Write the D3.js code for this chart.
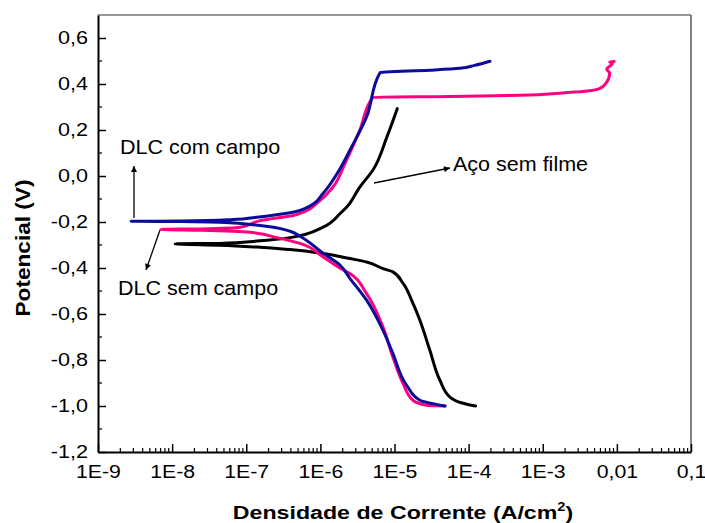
<!DOCTYPE html>
<html lang="pt">
<head>
<meta charset="utf-8">
<title>Polarização</title>
<script src="https://cdnjs.cloudflare.com/ajax/libs/d3/7.8.5/d3.min.js"></script>
<style>
  body { margin: 0; background: #fff; }
  text { font-family: "Liberation Sans", Arial, sans-serif; fill: #000; }
</style>
</head>
<body>
<script>
// curvas de polarização: densidade de corrente (A/cm2) x potencial (V)
var comCampoI = [4.8e-5, 2.2e-5, 1.46e-5, 9.5e-6, 7.0e-6, 4.2e-6, 2.5e-6, 1.85e-6, 1.09e-6, 5.3e-7, 3.9e-7, 1.54e-7, 4.4e-8, 1.3e-8, 2.8e-9,
                 1.3e-8, 6.1e-8, 1.5e-7, 3.9e-7, 7.3e-7, 1.09e-6, 1.85e-6, 2.5e-6, 4.2e-6, 6.4e-6, 3.0e-5, 7.6e-5, 1.2e-4, 1.94e-4];
var comCampoE = [-1.0, -0.975, -0.91, -0.771, -0.671, -0.54, -0.445, -0.388, -0.336, -0.262, -0.24, -0.215, -0.201, -0.198, -0.197,
                 -0.196, -0.19, -0.178, -0.16, -0.13, -0.075, 0.033, 0.112, 0.257, 0.45, 0.46, 0.468, 0.481, 0.499];

var semCampoI = [4.8e-5, 2.7e-5, 1.77e-5, 1.3e-5, 9.5e-6, 7.0e-6, 4.2e-6, 2.5e-6, 1.85e-6, 1.09e-6, 5.3e-7, 2.6e-7, 1.13e-7, 2.4e-8, 7.1e-9,
                 2.4e-8, 8.3e-8, 1.5e-7, 4.8e-7, 9.9e-7, 1.48e-6, 2.15e-6, 3.4e-6, 5.1e-6, 5.6e-5, 4.9e-4, 1.7e-3, 3.7e-3, 5.9e-3, 7.1e-3,
                 8.0e-3, 7.3e-3, 8.7e-3, 8.0e-3, 9.2e-3];
var semCampoE = [-1.0, -0.997, -0.975, -0.901, -0.787, -0.657, -0.511, -0.424, -0.401, -0.352, -0.293, -0.268, -0.245, -0.236, -0.232,
                 -0.23, -0.223, -0.195, -0.168, -0.106, -0.048, 0.055, 0.199, 0.342, 0.346, 0.351, 0.36, 0.368, 0.381, 0.403,
                 0.447, 0.464, 0.49, 0.496, 0.498];

var acoI = [1.24e-4, 8.4e-5, 5.6e-5, 4.1e-5, 3.0e-5, 2.2e-5, 1.77e-5, 1.3e-5, 9.5e-6, 7.0e-6, 4.2e-6, 2.5e-6, 1.09e-6, 3.9e-7, 1.39e-7, 4.4e-8, 1.1e-8,
            4.4e-8, 1.39e-7, 3.9e-7, 1.09e-6, 1.85e-6, 2.27e-6, 3.4e-6, 5.1e-6, 7.9e-6, 1.09e-5];
var acoE = [-1.0, -0.988, -0.961, -0.888, -0.758, -0.627, -0.553, -0.466, -0.417, -0.403, -0.374, -0.359, -0.337, -0.32, -0.309, -0.301, -0.295,
            -0.293, -0.283, -0.268, -0.222, -0.163, -0.135, -0.048, 0.025, 0.17, 0.293];

var xTicks = [1e-9, 1e-8, 1e-7, 1e-6, 1e-5, 1e-4, 1e-3, 1e-2, 1e-1];
var xTickLabels = ["1E-9", "1E-8", "1E-7", "1E-6", "1E-5", "1E-4", "1E-3", "0,01", "0,1"];
var yTicks = [-1.2, -1.0, -0.8, -0.6, -0.4, -0.2, 0.0, 0.2, 0.4, 0.6];

var W = 705, H = 523;
var mLeft = 98, mRight = 691, mTop = 15, mBottom = 452;

var svg = d3.select("body").append("svg")
    .attr("width", W)
    .attr("height", H);

var x = d3.scaleLog().domain([1e-9, 0.1]).range([mLeft, mRight]);
var y = d3.scaleLinear().domain([-1.2, 0.7]).range([mBottom, mTop]);

// moldura fina (topo e direita)
svg.append("line").attr("x1", mLeft).attr("x2", mRight).attr("y1", mTop).attr("y2", mTop)
    .attr("stroke", "#333").attr("stroke-width", 1.2);
svg.append("line").attr("x1", mRight).attr("x2", mRight).attr("y1", mTop).attr("y2", mBottom)
    .attr("stroke", "#333").attr("stroke-width", 1.2);

// eixo x
var minorX = [];
for (var d = -9; d < -1; d++) {
    for (var k = 2; k <= 9; k++) minorX.push(k * Math.pow(10, d));
}
var xAxis = d3.axisBottom(x).tickValues(xTicks)
    .tickFormat(function(d, i) { return xTickLabels[i]; })
    .tickSizeInner(-8).tickSizeOuter(0).tickPadding(13);
var gx = svg.append("g").attr("transform", "translate(0," + mBottom + ")").call(xAxis);
gx.selectAll(".tick line").attr("stroke-width", 1.5);
gx.selectAll("line.minor").data(minorX).enter().append("line")
    .attr("class", "minor")
    .attr("x1", function(d) { return x(d); }).attr("x2", function(d) { return x(d); })
    .attr("y1", 0).attr("y2", -4)
    .attr("stroke", "#000").attr("stroke-width", 1.2);
gx.attr("font-size", 18.5);
gx.selectAll(".tick text").attr("transform", "scale(1.15,1)");

// eixo y
var yAxis = d3.axisLeft(y).tickValues(yTicks)
    .tickFormat(function(d) { return d3.format(".1f")(d).replace(".", ",").replace("−", "-"); })
    .tickSizeInner(-8).tickSizeOuter(0).tickPadding(8.3);
var gy = svg.append("g").attr("transform", "translate(" + mLeft + ",0)").call(yAxis);
gy.selectAll(".tick line").attr("stroke-width", 1.5);
gy.selectAll("line.minor").data(d3.range(-11, 7, 2).map(function(v) { return v / 10; })).enter()
    .append("line")
    .attr("class", "minor")
    .attr("x1", 0).attr("x2", 4)
    .attr("y1", function(d) { return y(d); }).attr("y2", function(d) { return y(d); })
    .attr("stroke", "#000").attr("stroke-width", 1.2);
gy.attr("font-size", 18);
gy.selectAll(".tick text").attr("transform", "scale(1.2,1)");

[gx, gy].forEach(function(g) {
    g.attr("font-family", "Liberation Sans, Arial, sans-serif");
    g.select(".domain").attr("stroke", "#000").attr("stroke-width", 2);
    g.selectAll(".tick text").attr("fill", "#000");
});

// curvas
var line = d3.line()
    .x(function(d) { return x(d[0]); })
    .y(function(d) { return y(d[1]); })
    .curve(d3.curveMonotoneY);

var series = [
    { i: acoI, e: acoE, color: "#000000" },
    { i: semCampoI, e: semCampoE, color: "#ff0080" },
    { i: comCampoI, e: comCampoE, color: "#0b0b9c" }
];
series.forEach(function(s) {
    svg.append("path")
        .datum(d3.zip(s.i, s.e))
        .attr("d", line)
        .attr("fill", "none")
        .attr("stroke", s.color)
        .attr("stroke-width", 3)
        .attr("stroke-linejoin", "round")
        .attr("stroke-linecap", "round");
});

// setas e rótulos
svg.append("defs").append("marker")
    .attr("id", "seta").attr("viewBox", "0 0 10 10")
    .attr("refX", 10).attr("refY", 5)
    .attr("markerWidth", 8).attr("markerHeight", 6)
    .attr("markerUnits", "userSpaceOnUse")
    .attr("orient", "auto")
    .append("path").attr("d", "M0,0 L10,5 L0,10 z").attr("fill", "#000");

var arrows = [
    [134, 218, 134, 166],
    [160, 230, 146, 270],
    [374, 183, 450, 168]
];
arrows.forEach(function(a) {
    svg.append("line")
        .attr("x1", a[0]).attr("y1", a[1]).attr("x2", a[2]).attr("y2", a[3])
        .attr("stroke", "#000").attr("stroke-width", 1.3)
        .attr("marker-end", "url(#seta)");
});

var notes = [
    ["DLC com campo", 120, 154],
    ["DLC sem campo", 118, 295],
    ["Aço sem filme", 453, 171]
];
notes.forEach(function(n) {
    svg.append("text")
        .attr("transform", "translate(" + n[1] + "," + n[2] + ") scale(1.05,1)")
        .attr("font-size", 20.5).text(n[0]);
});

// títulos dos eixos
var xt = svg.append("text")
    .attr("transform", "translate(403,519) scale(1.22,1)")
    .attr("text-anchor", "middle")
    .attr("font-size", 19).attr("font-weight", "bold")
    .text("Densidade de Corrente (A/cm");
xt.append("tspan").attr("dy", -8).attr("font-size", 12).text("2");
xt.append("tspan").attr("dy", 8).text(")");

svg.append("text")
    .attr("transform", "translate(30,248) rotate(-90)")
    .attr("text-anchor", "middle")
    .attr("font-size", 20.5).attr("font-weight", "bold")
    .attr("textLength", 137).attr("lengthAdjust", "spacingAndGlyphs")
    .text("Potencial (V)");
</script>
</body>
</html>
